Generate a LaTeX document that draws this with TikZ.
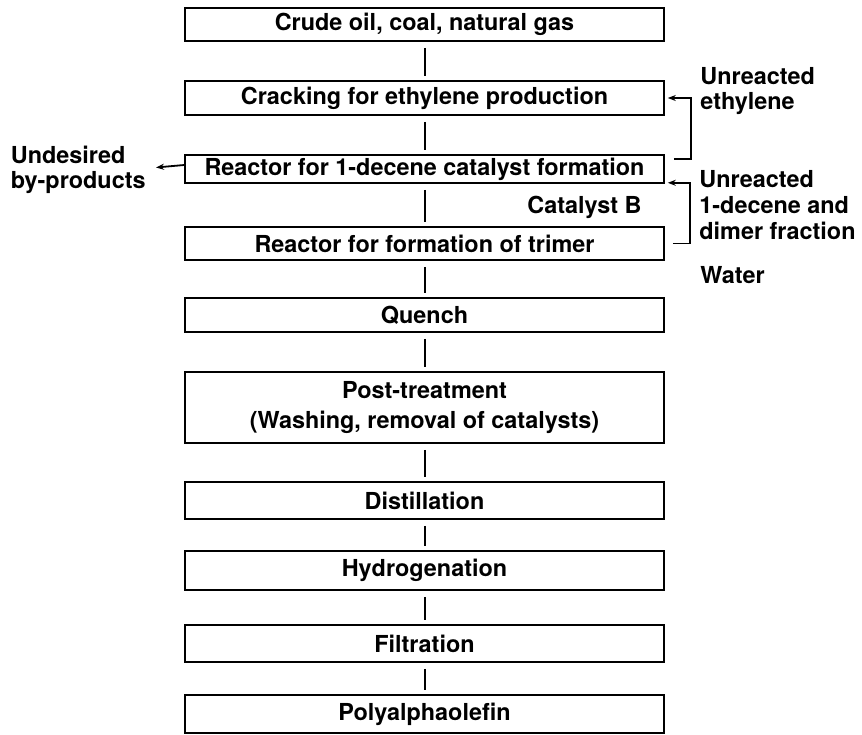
\documentclass[tikz,border=0pt]{standalone}
\usepackage{fontspec}
\setmainfont{TeX Gyre Heros}
\usetikzlibrary{arrows.meta, positioning}

\begin{document}
\begin{tikzpicture}[
  x=0.5pt, y=-0.5pt,
  box/.style  = {rectangle, draw, line width=0.8pt, minimum width=239.5pt,
                 inner sep=0pt, text centered, align=center,
                 font=\fontsize{11.7}{15}\selectfont\bfseries},
  lbl/.style  = {inner sep=0pt, align=left,
                 font=\fontsize{11.7}{12.8}\selectfont\bfseries},
  link/.style = {line width=1pt, shorten >=2pt, shorten <=3pt},
  arr/.style  = {-{Stealth[length=4pt,width=3pt]}, line width=0.9pt}
]
\useasboundingbox (0,0) rectangle (862,734);

\node[box, minimum height=16.5pt] (crude)   at (424.5,24.5)  {Crude oil, coal, natural gas};
\node[box, minimum height=17pt]   (crack)   at (424.5,98)    {Cracking for ethylene production};
\node[box, minimum height=14pt]   (decene)  at (424.5,169)   {Reactor for 1-decene catalyst formation};
\node[box, minimum height=16.5pt] (trimer)  at (424.5,243.5) {Reactor for formation of trimer};
\node[box, minimum height=17pt]   (quench)  at (424.5,315)   {Quench};
\node[box, minimum height=35.5pt] (post)    at (424.5,407.5) {Post-treatment\\(Washing, removal of catalysts)};
\node[box, minimum height=18.5pt] (distill) at (424.5,500.5) {Distillation};
\node[box, minimum height=19.5pt] (hydro)   at (424.5,570.5) {Hydrogenation};
\node[box, minimum height=18.5pt] (filtr)   at (424.5,643.5) {Filtration};
\node[box, minimum height=19pt]   (poly)    at (424.5,714)   {Polyalphaolefin};

\node[lbl, anchor=east]  (byprod)   at (146,170) {Undesired\\by-products};
\node[lbl, anchor=east]  (catB)     at (642,207) {Catalyst B};
\node[lbl, anchor=west]  (ethylene) at (700,91)  {Unreacted\\ethylene};
\node[lbl, anchor=west]  (dimer)    at (699,205) {Unreacted\\1-decene and\\dimer fraction};
\node[lbl, anchor=west]  (water)    at (700,275) {Water};

\foreach \a/\b in {crude/crack, crack/decene, decene/trimer, trimer/quench,
                   quench/post, post/distill, distill/hydro, hydro/filtr,
                   filtr/poly}
  \draw[link] (\a) -- (\b);

\draw[arr] ([yshift=2pt]decene.west) -- ([shift={(10,-2.5)}]byprod.east);
\draw[arr] ([shift={(9,5)}]decene.north east) -| ([xshift=13pt]crack.east)
           -- ([xshift=1.5pt]crack.east);
\draw[arr] ([xshift=4pt]trimer.east) -| ([shift={(25,-1)}]decene.south east)
           -- ([shift={(3,-1)}]decene.south east);
\end{tikzpicture}
\end{document}
